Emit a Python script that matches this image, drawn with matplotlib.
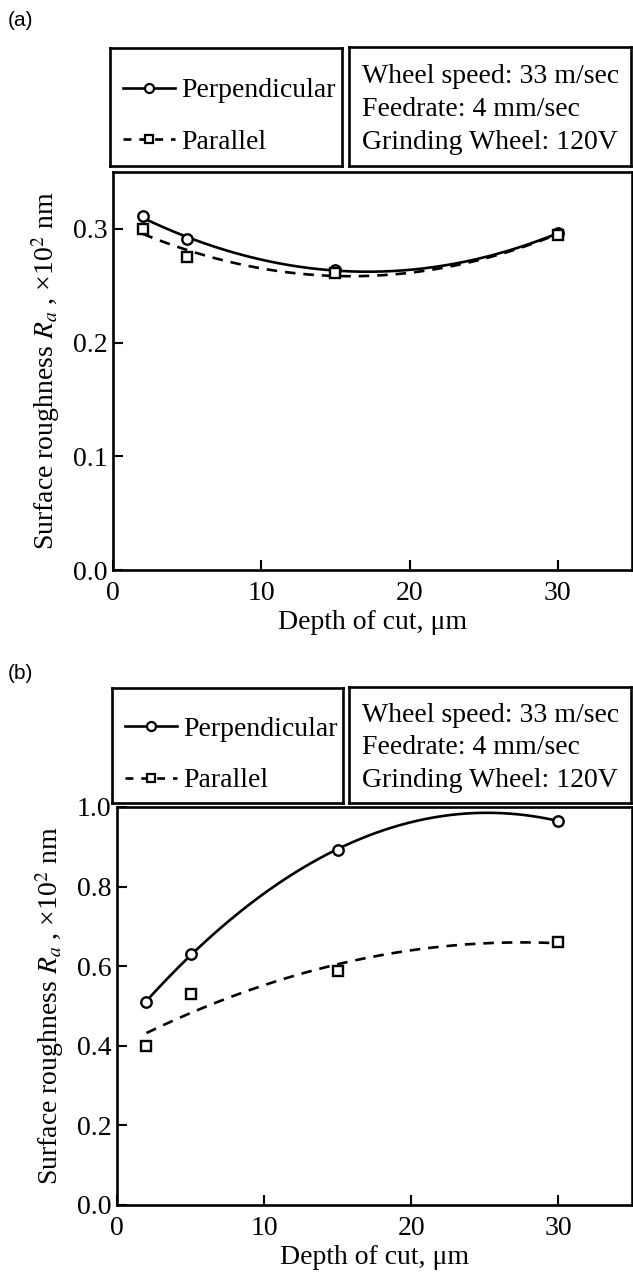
import matplotlib.pyplot as plt
import numpy as np

plt.rcParams['font.family'] = ['Liberation Serif', 'DejaVu Serif']
plt.rcParams['mathtext.fontset'] = 'stix'

# depth of cut, um
depth = [2, 5, 15, 30]

# panel (a)
perp_a = [0.311, 0.291, 0.264, 0.296]
para_a = [0.300, 0.275, 0.261, 0.295]
# panel (b)
perp_b = [0.51, 0.631, 0.893, 0.965]
para_b = [0.40, 0.529, 0.587, 0.661]

info = "Wheel speed: 33 m/sec\nFeedrate: 4 mm/sec\nGrinding Wheel: 120V"
ylabel = "Surface roughness $R_a$ , ×10$^2$ nm"
xlabel = "Depth of cut, μm"

W, H = 633, 1279
fig = plt.figure(figsize=(W / 100, H / 100), dpi=100)


def px(l, t, r, b):
    # pixel box -> figure fraction
    return [l / W, 1 - b / H, (r - l) / W, (b - t) / H]


def panel(tag, perp, para, ylim, yticks, ax_box, leg_box, info_box, tag_y):
    ax = fig.add_axes(px(*ax_box))
    xs = np.linspace(min(depth), max(depth), 200)

    # quadratic trend lines through the measured points
    c1 = np.polyfit(depth, perp, 2)
    c2 = np.polyfit(depth, para, 2)
    ax.plot(xs, np.polyval(c1, xs), color='black', lw=1.9)
    ax.plot(xs, np.polyval(c2, xs), color='black', lw=1.9, ls=(0, (4, 3)))
    ax.plot(depth, perp, 'o', ms=7.5, mfc='white', mec='black', mew=1.7)
    ax.plot(depth, para, 's', ms=7, mfc='white', mec='black', mew=1.7)

    ax.set_xlim(0, 35)
    ax.set_ylim(*ylim)
    ax.set_xticks([0, 10, 20, 30])
    ax.set_yticks(yticks)
    ax.set_yticklabels([f"{v:.1f}" for v in yticks])
    ax.tick_params(direction='in', length=7, width=1.5, labelsize=20)
    ax.tick_params(axis='x', pad=8)
    ax.tick_params(axis='y', pad=4)
    for s in ax.spines.values():
        s.set_linewidth(1.9)
    ax.set_xlabel(xlabel, fontsize=20, labelpad=3)
    ax.set_ylabel(ylabel, fontsize=20, labelpad=8)

    # legend box
    lg = fig.add_axes(px(*leg_box))
    lg.set_xticks([])
    lg.set_yticks([])
    for s in lg.spines.values():
        s.set_linewidth(1.9)
    h1, = lg.plot([], [], color='black', lw=1.9, marker='o', ms=6.5,
                  mfc='white', mec='black', mew=1.6)
    h2, = lg.plot([], [], color='black', lw=1.9, ls=(0, (3, 3)), marker='s',
                  ms=6, mfc='white', mec='black', mew=1.6)
    lg.legend([h1, h2], ['Perpendicular', 'Parallel'], loc='center left',
              bbox_to_anchor=(0, 0.42), frameon=False, fontsize=20,
              handlelength=1.9, handletextpad=0.2, labelspacing=0.95,
              borderaxespad=0.05)

    # info box
    ib = fig.add_axes(px(*info_box))
    ib.set_xticks([])
    ib.set_yticks([])
    for s in ib.spines.values():
        s.set_linewidth(1.9)
    ib.text(0.045, 0.475, info, fontsize=20, va='center', ha='left',
            linespacing=1.4, transform=ib.transAxes)

    fig.text(8 / W, 1 - tag_y / H, tag, fontsize=15, family='Liberation Sans',
             va='center', ha='left')


panel('(a)', perp_a, para_a, (0, 0.35), [0.0, 0.1, 0.2, 0.3],
      (113, 172, 632, 570), (110, 48, 342, 166), (349, 47, 631, 166), 21)
panel('(b)', perp_b, para_b, (0, 1.0), [0.0, 0.2, 0.4, 0.6, 0.8, 1.0],
      (117, 807, 632, 1205), (112, 688, 343, 803), (349, 687, 631, 803), 673)

fig.savefig('out.png', dpi=100)
